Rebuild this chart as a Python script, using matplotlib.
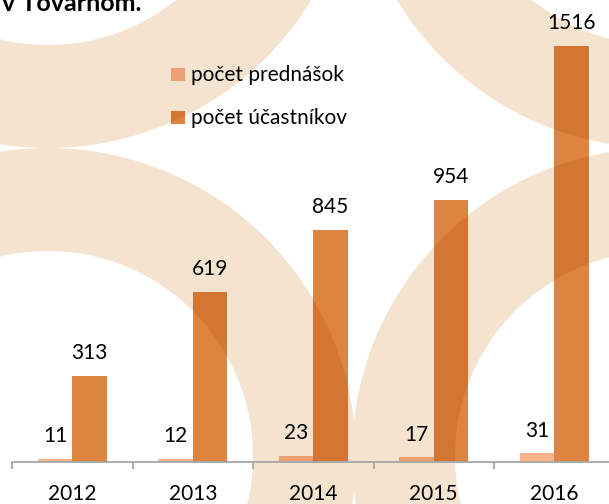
import numpy as np
import matplotlib
matplotlib.use("Agg")
import matplotlib.pyplot as plt
from matplotlib.patches import Wedge, Rectangle
from matplotlib.colors import to_rgb

# data
years = ['2012', '2013', '2014', '2015', '2016']
prednasky = [11, 12, 23, 17, 31]
ucastnici = [313, 619, 845, 954, 1516]
series_names = ['počet prednášok', 'počet účastníkov']

LIGHT = '#FAB48C'
DARK = '#DD8540'
BEIGE = '#F3E3CF'
AXIS = '#A6A6A6'
FONT = 'Lato'

W, H = 609, 504
fig = plt.figure(figsize=(W / 100, H / 100), dpi=100)

# background layer in pixel units (decorative rings)
bg = fig.add_axes([0, 0, 1, 1], zorder=0)
bg.set_xlim(0, W)
bg.set_ylim(H, 0)
bg.axis('off')

ring_centers = [(48, -160), (48, 456), (660, -160), (660, 456)]
R_OUT, R_IN = 308, 205


def ring(c, **kw):
    return Wedge(c, R_OUT, 0, 360, width=R_OUT - R_IN, lw=0, **kw)


for c in ring_centers:
    bg.add_patch(ring(c, color=BEIGE))


def multiply(col):
    return tuple(np.array(to_rgb(col)) * np.array(to_rgb(BEIGE)))


def darken_under_rings(target_ax, rect, col):
    # bars look multiplied where they sit on the beige rings
    for c in ring_centers:
        w = ring(c, color=multiply(col), transform=bg.transData, zorder=rect.get_zorder() + 0.1)
        target_ax.add_patch(w)
        w.set_clip_path(rect)


# title fragment cut at the top edge (as in the source page)
bg.text(2, 11, 'v Tovarnom.', fontsize=18, fontweight='bold', family=FONT,
        color='black', va='baseline', ha='left')

# main chart
ax = fig.add_axes([12 / W, (H - 462) / H, 602.5 / W, 439.2 / H], zorder=1)
ax.patch.set_visible(False)

x = np.arange(len(years))
bw = 0.285
b1 = ax.bar(x - bw / 2, prednasky, bw, color=LIGHT, lw=0)
b2 = ax.bar(x + bw / 2, ucastnici, bw, color=DARK, lw=0)

for bars, col in [(b1, LIGHT), (b2, DARK)]:
    for r in bars:
        darken_under_rings(ax, r, col)

for xs, vals in [(x - bw / 2, prednasky), (x + bw / 2, ucastnici)]:
    for xi, v in zip(xs, vals):
        ax.annotate(str(v), (xi, v), xytext=(0, 12), textcoords='offset points',
                    ha='center', va='baseline', fontsize=15, family=FONT, color='black')

for xi, y in zip(x, years):
    ax.annotate(y, (xi, 0), xycoords=('data', 'axes fraction'), xytext=(0, -27.5),
                textcoords='offset points', ha='center', va='baseline',
                fontsize=15, family=FONT, color='black', annotation_clip=False)

ax.set_xlim(-0.5, len(years) - 0.5)
ax.set_ylim(0, 1600)
for s in ['top', 'right', 'left']:
    ax.spines[s].set_visible(False)
ax.spines['bottom'].set_color(AXIS)
ax.spines['bottom'].set_linewidth(1.3)
ax.set_yticks([])
ax.set_xticks(np.arange(len(years) + 1) - 0.5)
ax.set_xticklabels([])
ax.tick_params(axis='x', length=5, width=1.3, color=AXIS, direction='out')

# legend drawn by hand in pixel units
ov = fig.add_axes([0, 0, 1, 1], zorder=2)
ov.set_xlim(0, W)
ov.set_ylim(H, 0)
ov.axis('off')
for i, (name, col) in enumerate(zip(series_names, [LIGHT, DARK])):
    top = 67.5 + i * 43
    sq = Rectangle((171, top), 13.5, 13.5, color=col, lw=0)
    ov.add_patch(sq)
    darken_under_rings(ov, sq, col)
    ov.text(191, top + 13.5, name, fontsize=15, family=FONT, color='black',
            va='baseline', ha='left')
ov.set_xlim(0, W)
ov.set_ylim(H, 0)

fig.savefig('out.png', dpi=100)
